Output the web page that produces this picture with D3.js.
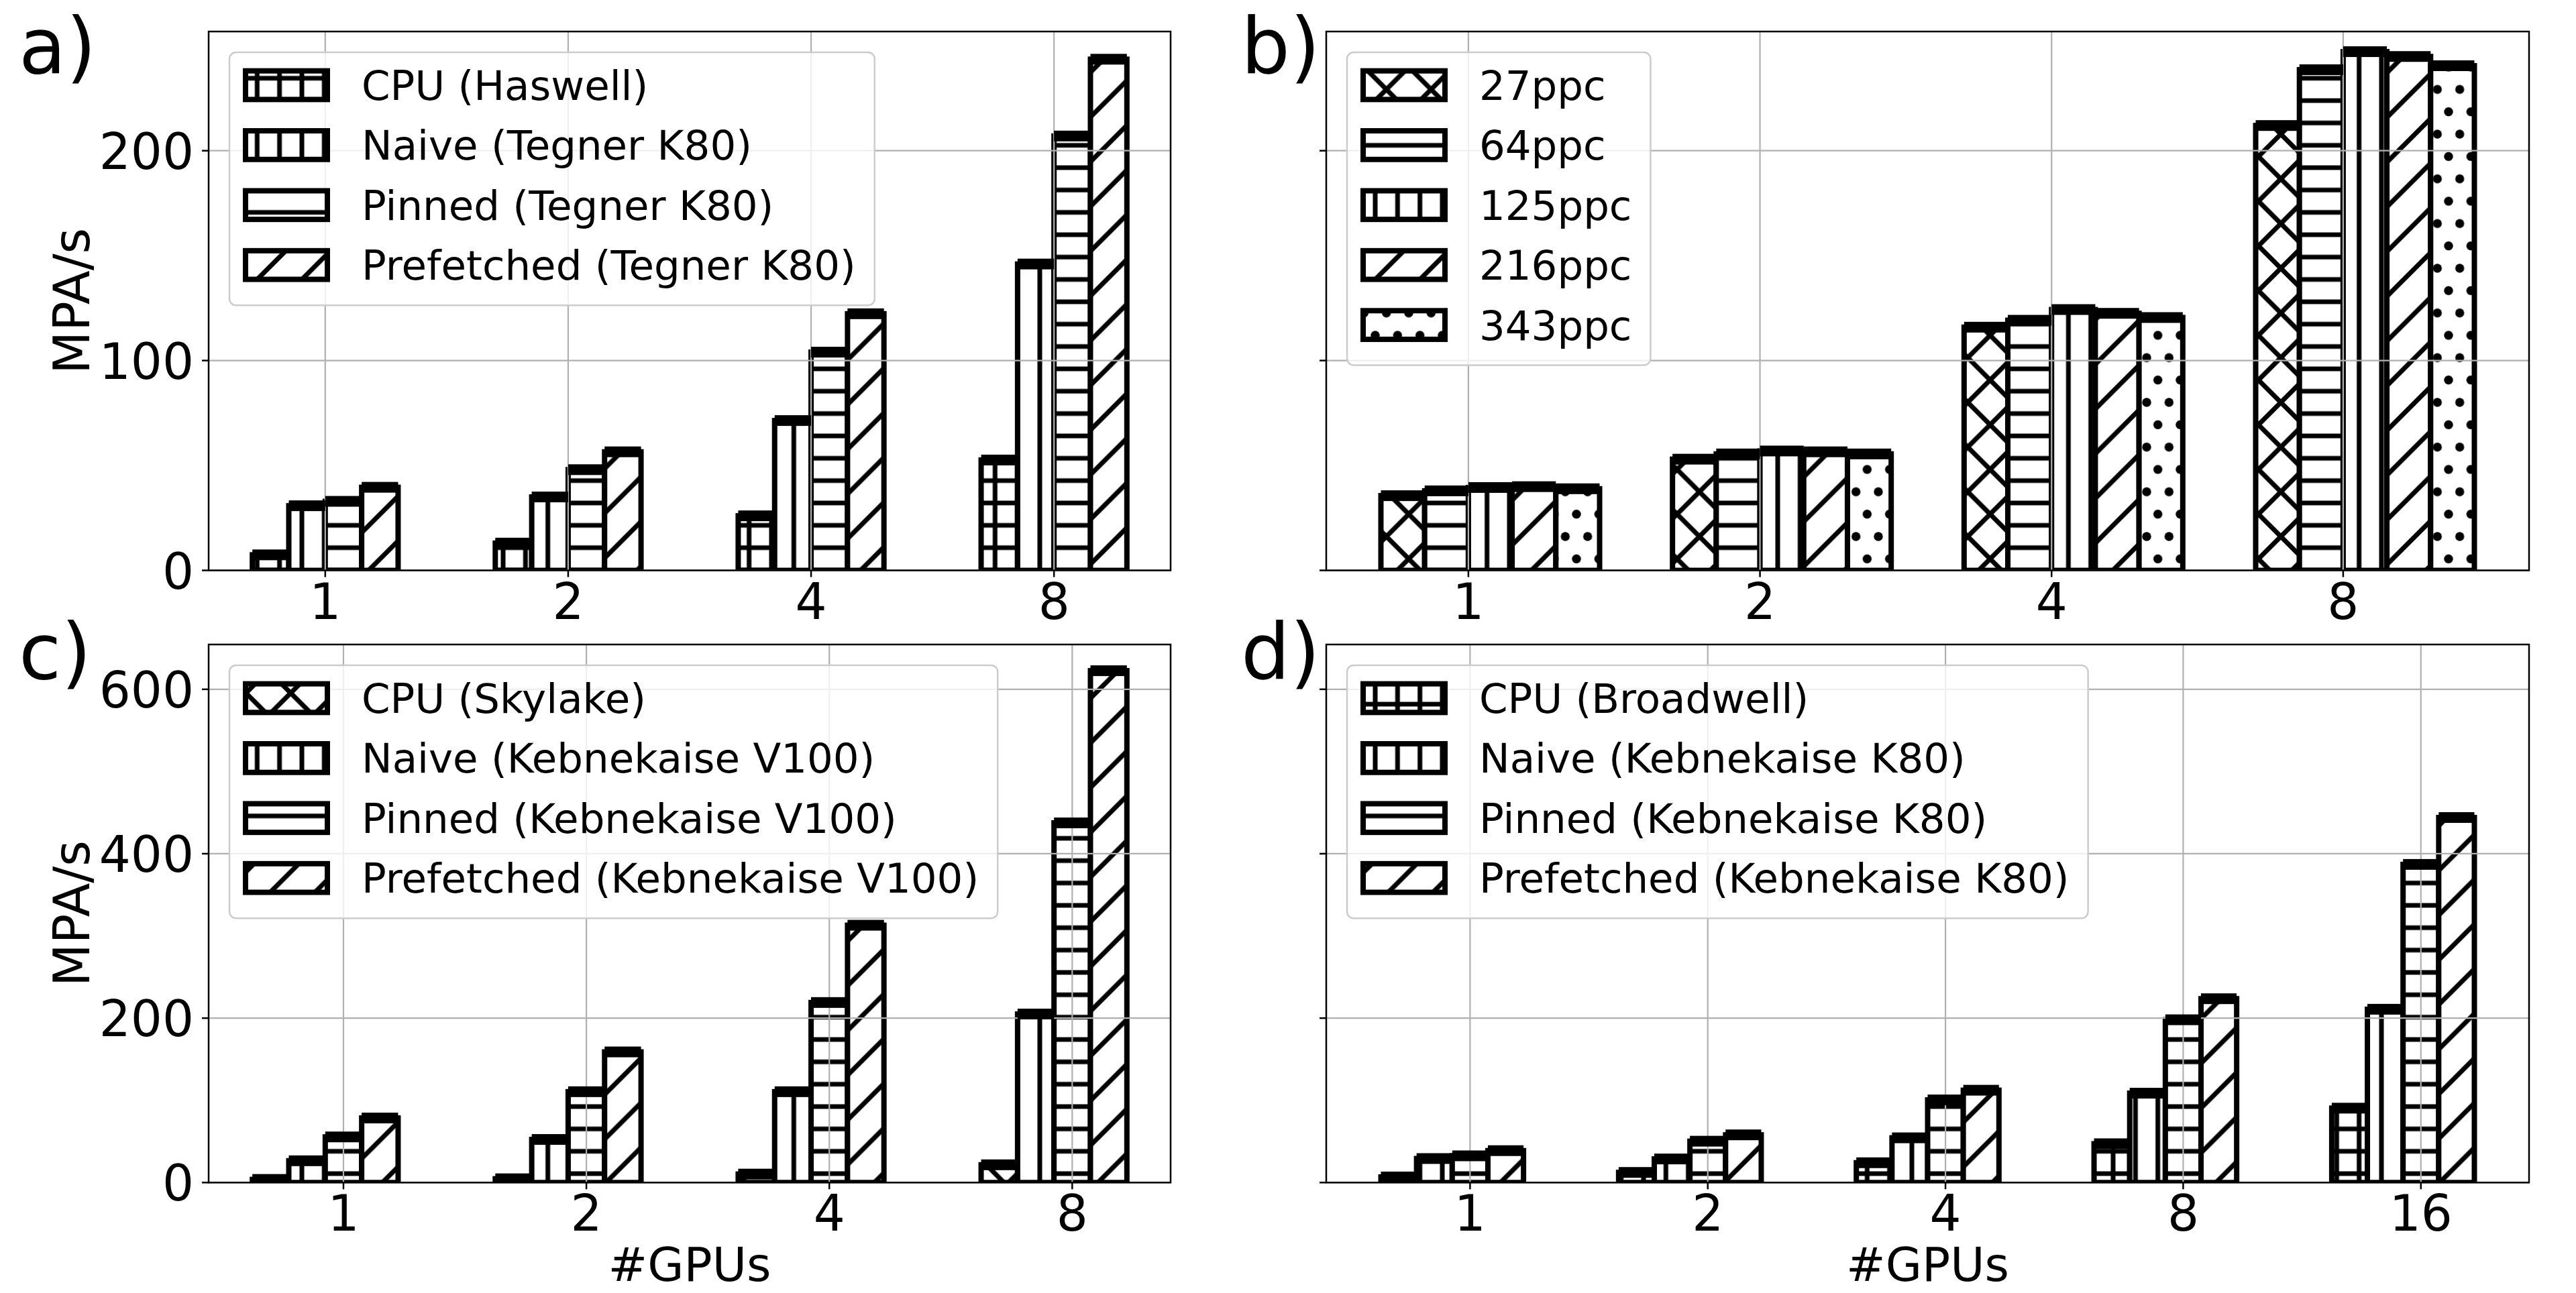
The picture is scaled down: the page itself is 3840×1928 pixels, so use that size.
<!DOCTYPE html>
<html><head><meta charset="utf-8">
<script src="https://cdn.jsdelivr.net/npm/d3@7"></script>
<style>
body{margin:0;background:#fff}
svg{display:block}
text{font-family:"DejaVu Sans",sans-serif;fill:#000}
</style>
</head><body>
<svg id="chart" width="3840" height="1928"></svg>
<script>
// ---------------- DATA ----------------
const gpusABC = ["1", "2", "4", "8"];
const gpusD = ["1", "2", "4", "8", "16"];
const yTicksAB = [0, 100, 200];
const yTicksCD = [0, 200, 400, 600];
const yMaxAB = 256.8;
const yMaxCD = 654.5;

// a) Tegner
const namesA = ["CPU (Haswell)", "Naive (Tegner K80)", "Pinned (Tegner K80)", "Prefetched (Tegner K80)"];
const cpuHaswell = [7.4, 13, 26, 52.6];
const naiveTegner = [30.8, 35, 71.4, 146];
const pinnedTegner = [32.9, 48, 104, 207];
const prefetchedTegner = [39.6, 56.5, 122.3, 243.6];

// b) particles per cell
const namesB = ["27ppc", "64ppc", "125ppc", "216ppc", "343ppc"];
const ppc27 = [35.6, 53, 115.9, 212];
const ppc64 = [37.9, 55.5, 119.2, 238.6];
const ppc125 = [39.5, 56.9, 124.3, 247.2];
const ppc216 = [39.9, 56.5, 122.5, 244.9];
const ppc343 = [38.9, 55.5, 120.5, 240.5];

// c) Kebnekaise V100
const namesC = ["CPU (Skylake)", "Naive (Kebnekaise V100)", "Pinned (Kebnekaise V100)", "Prefetched (Kebnekaise V100)"];
const cpuSkylake = [3.8, 4.6, 10.3, 21.6];
const naiveV100 = [26.5, 52.4, 110.5, 205];
const pinnedV100 = [55.5, 110.5, 219, 437.5];
const prefetchedV100 = [78.5, 158.9, 313, 622.6];

// d) Kebnekaise K80
const namesD = ["CPU (Broadwell)", "Naive (Kebnekaise K80)", "Pinned (Kebnekaise K80)", "Prefetched (Kebnekaise K80)"];
const cpuBroadwell = [6.8, 12.3, 24.1, 47.2, 90.5];
const naiveK80 = [29.2, 28.7, 54.4, 108.7, 210.8];
const pinnedK80 = [32.5, 50.3, 100.5, 198, 387];
const prefetchedK80 = [38.8, 58, 112.3, 223.6, 444];

// ---------------- STYLE / LAYOUT ----------------
const hatchA = ["plus", "v", "h", "diag"];
const hatchB = ["cross", "h", "v", "diag", "dots"];
const hatchC = ["cross", "v", "h", "diag"];
const hatchD = ["plus", "v", "h", "diag"];

const BAR_W = 0.15;
const panels = [
  {label: "a)", lx: 28, ly: 109, cats: gpusABC, names: namesA, vals: [cpuHaswell, naiveTegner, pinnedTegner, prefetchedTegner], hatch: hatchA,
   left: 311, right: 1745, top: 47, bottom: 850.5, ymax: yMaxAB, yticks: yTicksAB, shift: -2, ylab: true, xlab: false},
  {label: "b)", lx: 1850, ly: 109, cats: gpusABC, names: namesB, vals: [ppc27, ppc64, ppc125, ppc216, ppc343], hatch: hatchB,
   left: 1977, right: 3770, top: 47, bottom: 850.5, ymax: yMaxAB, yticks: yTicksAB, shift: -2, ylab: false, xlab: false},
  {label: "c)", lx: 28, ly: 1012, cats: gpusABC, names: namesC, vals: [cpuSkylake, naiveV100, pinnedV100, prefetchedV100], hatch: hatchC,
   left: 311, right: 1745, top: 961, bottom: 1763.3, ymax: yMaxCD, yticks: yTicksCD, shift: -2.5, ylab: true, xlab: true},
  {label: "d)", lx: 1850, ly: 1012, cats: gpusD, names: namesD, vals: [cpuBroadwell, naiveK80, pinnedK80, prefetchedK80], hatch: hatchD,
   left: 1977, right: 3770, top: 961, bottom: 1763.3, ymax: yMaxCD, yticks: yTicksCD, shift: -2.5, ylab: false, xlab: true}
];

const svg = d3.select("#chart");
svg.append("rect").attr("width", 3840).attr("height", 1928).attr("fill", "#fff");
const defs = svg.append("defs");

// ---------------- HATCH PATTERNS ----------------
const S = 100 / 3, D = 200 / 3, HW = 7;
function pattern(id, w, h) {
  const p = defs.append("pattern").attr("id", id).attr("patternUnits", "userSpaceOnUse")
    .attr("x", 0).attr("y", 0).attr("width", w).attr("height", h);
  p.append("rect").attr("width", w).attr("height", h).attr("fill", "#fff");
  return p;
}
function ln(p, x1, y1, x2, y2) {
  p.append("line").attr("x1", x1).attr("y1", y1).attr("x2", x2).attr("y2", y2)
    .attr("stroke", "#000").attr("stroke-width", HW);
}
let p;
p = pattern("hatch-h", S, S); ln(p, -2, S / 2, S + 2, S / 2);
p = pattern("hatch-v", S, S); ln(p, S / 2, -2, S / 2, S + 2);
p = pattern("hatch-plus", S, S); ln(p, -2, S / 2, S + 2, S / 2); ln(p, S / 2, -2, S / 2, S + 2);
function diag(p) {
  ln(p, -0.2 * D, 1.2 * D, 1.2 * D, -0.2 * D);
  ln(p, -0.2 * D, 0.2 * D, 0.2 * D, -0.2 * D);
  ln(p, 0.8 * D, 1.2 * D, 1.2 * D, 0.8 * D);
}
function back(p) {
  ln(p, -0.2 * D, -0.2 * D, 1.2 * D, 1.2 * D);
  ln(p, -0.2 * D, 0.8 * D, 0.2 * D, 1.2 * D);
  ln(p, 0.8 * D, -0.2 * D, 1.2 * D, 0.2 * D);
}
p = pattern("hatch-diag", D, D); diag(p);
p = pattern("hatch-cross", D, D); diag(p); back(p);
p = pattern("hatch-dots", S, D);
[[0, 0], [S, 0], [0, D], [S, D], [S / 2, S]].forEach(([cx, cy]) =>
  p.append("circle").attr("cx", cx).attr("cy", cy).attr("r", 6.7).attr("fill", "#000"));

// ---------------- DRAW PANELS ----------------
const TICK_FS = 74, LEG_FS = 61, XLAB_FS = 70;
panels.forEach((P, pi) => {
  const nS = P.vals.length, nC = P.cats.length;
  const first = P.shift * BAR_W, last = (nC - 1) + (P.shift + nS) * BAR_W;
  const span = last - first;
  const x = d3.scaleLinear().domain([first - 0.05 * span, last + 0.05 * span]).range([P.left, P.right]);
  const y = d3.scaleLinear().domain([0, P.ymax]).range([P.bottom, P.top]);

  const clipId = "clip" + pi;
  defs.append("clipPath").attr("id", clipId).append("rect")
    .attr("x", P.left).attr("y", P.top).attr("width", P.right - P.left).attr("height", P.bottom - P.top);

  const bw = x(BAR_W) - x(0);
  const bars = [];
  P.vals.forEach((arr, si) => arr.forEach((v, ci) => bars.push({si, ci, v})));

  // bars
  const gb = svg.append("g").attr("clip-path", `url(#${clipId})`);
  gb.selectAll("rect.bar").data(bars).join("rect").attr("class", "bar")
    .attr("x", d => x(d.ci + (P.shift + d.si) * BAR_W))
    .attr("y", d => y(d.v))
    .attr("width", bw)
    .attr("height", d => y(0) - y(d.v))
    .attr("fill", d => `url(#hatch-${P.hatch[d.si]})`)
    .attr("stroke", "#000").attr("stroke-width", 8);

  // grid (above patches, like matplotlib default)
  const gg = svg.append("g");
  gg.selectAll("line.gx").data(P.cats).join("line")
    .attr("x1", (c, i) => x(i)).attr("x2", (c, i) => x(i))
    .attr("y1", P.top).attr("y2", P.bottom)
    .attr("stroke", "#b0b0b0").attr("stroke-width", 2.2);
  gg.selectAll("line.gy").data(P.yticks).join("line")
    .attr("x1", P.left).attr("x2", P.right)
    .attr("y1", d => y(d)).attr("y2", d => y(d))
    .attr("stroke", "#b0b0b0").attr("stroke-width", 2.2);

  // error-bar caps
  const gc = svg.append("g").attr("clip-path", `url(#${clipId})`);
  gc.selectAll("rect.cap").data(bars).join("rect")
    .attr("x", d => x(d.ci + (P.shift + d.si) * BAR_W))
    .attr("y", d => y(d.v) - 8)
    .attr("width", bw).attr("height", 16).attr("fill", "#000");

  // spines
  svg.append("rect").attr("x", P.left).attr("y", P.top)
    .attr("width", P.right - P.left).attr("height", P.bottom - P.top)
    .attr("fill", "none").attr("stroke", "#000").attr("stroke-width", 2.5);

  // x axis ticks + labels
  const gx = svg.append("g");
  gx.selectAll("line").data(P.cats).join("line")
    .attr("x1", (c, i) => x(i)).attr("x2", (c, i) => x(i))
    .attr("y1", P.bottom).attr("y2", P.bottom + 10)
    .attr("stroke", "#000").attr("stroke-width", 2.5);
  gx.selectAll("text").data(P.cats).join("text")
    .attr("x", (c, i) => x(i)).attr("y", P.bottom + 72)
    .attr("text-anchor", "middle").attr("font-size", TICK_FS).text(c => c);

  // y axis ticks + labels
  const gy = svg.append("g");
  gy.selectAll("line").data(P.yticks).join("line")
    .attr("x1", P.left - 10).attr("x2", P.left)
    .attr("y1", d => y(d)).attr("y2", d => y(d))
    .attr("stroke", "#000").attr("stroke-width", 2.5);
  if (P.ylab) {
    gy.selectAll("text").data(P.yticks).join("text")
      .attr("x", P.left - 22).attr("y", d => y(d) + 27)
      .attr("text-anchor", "end").attr("font-size", TICK_FS).text(d => d);
    svg.append("text")
      .attr("transform", `translate(133,${(P.top + P.bottom) / 2}) rotate(-90)`)
      .attr("text-anchor", "middle").attr("font-size", TICK_FS).text("MPA/s");
  }
  if (P.xlab) {
    svg.append("text").attr("x", (P.left + P.right) / 2).attr("y", 1910)
      .attr("text-anchor", "middle").attr("font-size", XLAB_FS).text("#GPUs");
  }

  // panel label
  svg.append("text").attr("x", P.lx).attr("y", P.ly).attr("font-size", 115).text(P.label);

  // legend
  const gl = svg.append("g");
  const boxX = P.left + 31, boxY = P.top + 31, step = 89.4;
  const box = gl.append("rect").attr("x", boxX).attr("y", boxY).attr("rx", 10).attr("ry", 10)
    .attr("fill", "#fff").attr("fill-opacity", 0.8).attr("stroke", "#cccccc").attr("stroke-width", 2.5);
  let maxW = 0;
  P.names.forEach((nm, i) => {
    const cy = boxY + 49 + i * step;
    gl.append("rect").attr("x", P.left + 55).attr("y", cy - 21.35)
      .attr("width", 122).attr("height", 42.7)
      .attr("fill", `url(#hatch-${P.hatch[i]})`).attr("stroke", "#000").attr("stroke-width", 8);
    const t = gl.append("text").attr("x", P.left + 228).attr("y", cy + 22)
      .attr("font-size", LEG_FS).text(nm);
    maxW = Math.max(maxW, t.node().getComputedTextLength());
  });
  box.attr("width", (P.left + 228 + maxW + 28) - boxX)
     .attr("height", 49 + (nS - 1) * step + 60);
});
</script>
</body></html>
